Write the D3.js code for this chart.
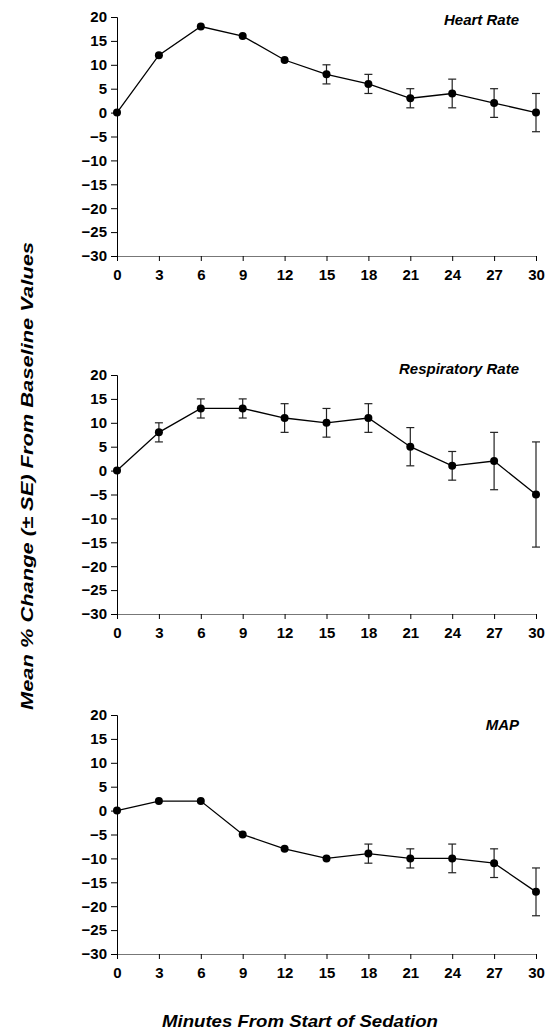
<!DOCTYPE html>
<html>
<head>
<meta charset="utf-8">
<script src="https://cdn.jsdelivr.net/npm/d3@7"></script>
<style>
  html, body { margin: 0; padding: 0; background: #fff; }
  svg { display: block; }
  text { font-family: "Liberation Sans", Arial, sans-serif; }
</style>
</head>
<body>
<script>
// ---- data ----
const minutes = [0, 3, 6, 9, 12, 15, 18, 21, 24, 27, 30];
const yTicks = [20, 15, 10, 5, 0, -5, -10, -15, -20, -25, -30];
const panelTitles = ["Heart Rate", "Respiratory Rate", "MAP"];
const hrMean = [0, 12, 18, 16, 11, 8, 6, 3, 4, 2, 0];
const hrSE   = [null, null, null, null, null, 2, 2, 2, 3, 3, 4];
const rrMean = [0, 8, 13, 13, 11, 10, 11, 5, 1, 2, -5];
const rrSE   = [null, 2, 2, 2, 3, 3, 3, 4, 3, 6, 11];
const mapMean = [0, 2, 2, -5, -8, -10, -9, -10, -10, -11, -17];
const mapSE   = [null, null, null, null, null, null, 2, 2, 3, 3, 5];
const yTitle = "Mean % Change (± SE) From Baseline Values";
const xTitle = "Minutes From Start of Sedation";

const W = 551, H = 1036;
const svg = d3.select("body").append("svg").attr("width", W).attr("height", H);

const panels = [
  { title: panelTitles[0], mean: hrMean, se: hrSE, top: 17, titleY: 25 },
  { title: panelTitles[1], mean: rrMean, se: rrSE, top: 375, titleY: 374 },
  { title: panelTitles[2], mean: mapMean, se: mapSE, top: 715, titleY: 730 }
];
const plotH = 239;
const x = d3.scaleLinear().domain([0, 30]).range([117, 536]);

panels.forEach(p => {
  const y = d3.scaleLinear().domain([-30, 20]).range([p.top + plotH, p.top]);
  const g = svg.append("g");

  // x axis
  const xa = g.append("g").attr("transform", `translate(0,${y(-30)})`)
    .call(d3.axisBottom(x).tickValues(minutes).tickSize(5).tickPadding(8).tickFormat(d3.format("d")));
  xa.select(".domain").attr("stroke", "#777").attr("stroke-width", 1);
  xa.selectAll(".tick line").attr("stroke", "#000").attr("stroke-width", 1);
  xa.selectAll("text").attr("font-size", 15).attr("font-weight", "bold").attr("fill", "#000")
    .style("font-family", '"Liberation Sans", Arial, sans-serif');

  // y axis
  const ya = g.append("g").attr("transform", `translate(${x(0)},0)`)
    .call(d3.axisLeft(y).tickValues(yTicks).tickSize(6).tickPadding(4).tickFormat(d3.format("d")));
  ya.select(".domain").attr("stroke", "#000").attr("stroke-width", 1);
  ya.selectAll(".tick line").attr("stroke", "#000").attr("stroke-width", 1);
  ya.selectAll("text").attr("font-size", 15).attr("font-weight", "bold").attr("fill", "#000")
    .style("font-family", '"Liberation Sans", Arial, sans-serif');

  const pts = minutes.map((m, i) => ({ m, v: p.mean[i], se: p.se[i] }));

  // error bars
  const eb = g.selectAll(".eb").data(pts.filter(d => d.se != null)).enter().append("g");
  eb.append("line")
    .attr("x1", d => x(d.m)).attr("x2", d => x(d.m))
    .attr("y1", d => y(d.v + d.se)).attr("y2", d => y(d.v - d.se))
    .attr("stroke", "#222").attr("stroke-width", 1.2);
  eb.append("line")
    .attr("x1", d => x(d.m) - 4).attr("x2", d => x(d.m) + 4)
    .attr("y1", d => y(d.v + d.se)).attr("y2", d => y(d.v + d.se))
    .attr("stroke", "#222").attr("stroke-width", 1.2);
  eb.append("line")
    .attr("x1", d => x(d.m) - 4).attr("x2", d => x(d.m) + 4)
    .attr("y1", d => y(d.v - d.se)).attr("y2", d => y(d.v - d.se))
    .attr("stroke", "#222").attr("stroke-width", 1.2);

  // line
  g.append("path").datum(pts)
    .attr("d", d3.line().x(d => x(d.m)).y(d => y(d.v)))
    .attr("fill", "none").attr("stroke", "#000").attr("stroke-width", 1.3);

  // dots
  g.selectAll(".dot").data(pts).enter().append("circle")
    .attr("cx", d => x(d.m)).attr("cy", d => y(d.v)).attr("r", 4)
    .attr("fill", "#000");

  // panel title
  g.append("text").attr("x", 519).attr("y", p.titleY).attr("text-anchor", "end")
    .attr("font-size", 15).attr("font-weight", "bold").attr("font-style", "italic")
    .text(p.title);
});

// y axis title
svg.append("text")
  .attr("transform", "translate(33,476) rotate(-90)")
  .attr("text-anchor", "middle")
  .attr("font-size", 17).attr("font-weight", "bold").attr("font-style", "italic")
  .attr("textLength", 468).attr("lengthAdjust", "spacingAndGlyphs")
  .text(yTitle);

// x axis title
svg.append("text")
  .attr("x", 300).attr("y", 1027)
  .attr("text-anchor", "middle")
  .attr("font-size", 17).attr("font-weight", "bold").attr("font-style", "italic")
  .attr("textLength", 276).attr("lengthAdjust", "spacingAndGlyphs")
  .text(xTitle);
</script>
</body>
</html>
